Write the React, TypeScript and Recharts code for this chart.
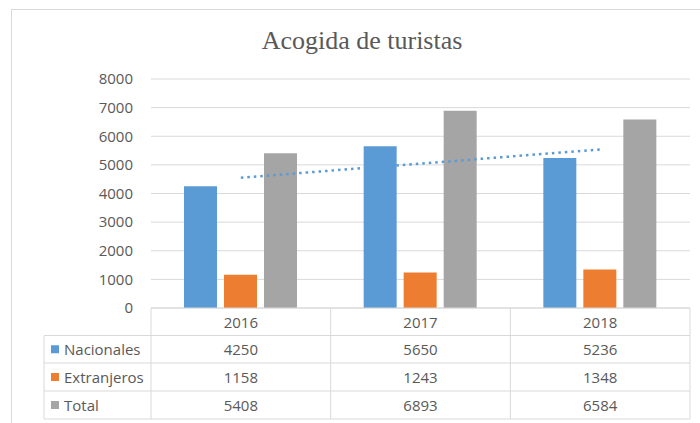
import React from 'react';
import { ComposedChart, Bar, Line, XAxis, YAxis, CartesianGrid } from 'recharts';

const years = ['2016', '2017', '2018'];
const nacionales = [4250, 5650, 5236];
const extranjeros = [1158, 1243, 1348];
const total = [5408, 6893, 6584];
// dotted linear trend line of "Nacionales"
const tendenciaNacionales = [4552, 5045, 5538];
const yTicks = [0, 1000, 2000, 3000, 4000, 5000, 6000, 7000, 8000];
const seriesNames = ['Nacionales', 'Extranjeros', 'Total'];
const seriesValues = [nacionales, extranjeros, total];
const seriesColors = ['#5B9BD5', '#ED7D31', '#A5A5A5'];
const title = 'Acogida de turistas';

const data = years.map((year, i) => ({
  year,
  nacionales: nacionales[i],
  extranjeros: extranjeros[i],
  total: total[i],
  tendencia: tendenciaNacionales[i],
}));

const W = 700;
const H = 423;
const MARGIN = { top: 79, right: 10, bottom: 0, left: 111 };
const Y_AXIS_W = 40;
const X_AXIS_H = 115;
const PLOT_W = W - MARGIN.left - MARGIN.right - Y_AXIS_W;
const TEXT = '#595959';
const GRID = '#d9d9d9';
const FONT = '"Open Sans", sans-serif';
const ROW_LINES = [0, 27.5, 55, 83, 111];
const LABEL_LEFT = 44;

function TableTick(props: any) {
  const { x, y, payload, index } = props;
  const band = PLOT_W / years.length;
  const left = x - band / 2;
  const right = x + band / 2;
  const els: any[] = [];
  // vertical borders
  els.push(<line key="vl" x1={left} x2={left} y1={y} y2={y + ROW_LINES[4]} stroke={GRID} />);
  if (index === years.length - 1) {
    els.push(<line key="vr" x1={right} x2={right} y1={y} y2={y + ROW_LINES[4]} stroke={GRID} />);
  }
  // horizontal borders
  ROW_LINES.slice(1).forEach((o, k) => {
    els.push(<line key={'h' + k} x1={left} x2={right} y1={y + o} y2={y + o} stroke={GRID} />);
  });
  // header (year)
  els.push(
    <text key="yr" x={x} y={y + ROW_LINES[0] + 14} textAnchor="middle" dominantBaseline="central"
      fontFamily={FONT} fontSize={15} fill={TEXT}>{payload.value}</text>
  );
  seriesValues.forEach((vals, r) => {
    const cy = y + (ROW_LINES[r + 1] + ROW_LINES[r + 2]) / 2;
    els.push(
      <text key={'v' + r} x={x} y={cy} textAnchor="middle" dominantBaseline="central"
        fontFamily={FONT} fontSize={15} fill={TEXT}>{vals[index]}</text>
    );
  });
  if (index === 0) {
    els.push(<line key="ll" x1={LABEL_LEFT} x2={LABEL_LEFT} y1={y + ROW_LINES[1]} y2={y + ROW_LINES[4]} stroke={GRID} />);
    ROW_LINES.slice(1).forEach((o, k) => {
      els.push(<line key={'lh' + k} x1={LABEL_LEFT} x2={left} y1={y + o} y2={y + o} stroke={GRID} />);
    });
    seriesNames.forEach((name, r) => {
      const cy = y + (ROW_LINES[r + 1] + ROW_LINES[r + 2]) / 2;
      els.push(<rect key={'sq' + r} x={LABEL_LEFT + 7} y={cy - 4} width={8} height={8} fill={seriesColors[r]} />);
      els.push(
        <text key={'n' + r} x={LABEL_LEFT + 20} y={cy} textAnchor="start" dominantBaseline="central"
          fontFamily={FONT} fontSize={15} fill={TEXT}>{name}</text>
      );
    });
  }
  return <g>{els}</g>;
}

export default function App() {
  return (
    <div style={{ position: 'absolute', left: 0, top: 0, width: W, height: H, overflow: 'hidden', background: '#fff' }}>
      <div style={{ position: 'absolute', left: 11, top: 9, width: 760, height: 500, border: '1px solid #d9d9d9', boxSizing: 'border-box' }} />
      <svg width={W} height={H} style={{ position: 'absolute', left: 0, top: 0 }}>
        <text x={362} y={49} textAnchor="middle" fontFamily='"Liberation Serif", serif' fontSize={26} fill={TEXT}>{title}</text>
      </svg>
      <div style={{ position: 'absolute', left: 0, top: 0 }}>
        <ComposedChart width={W} height={H} data={data} margin={MARGIN} barSize={33} barGap={7}>
          <CartesianGrid vertical={false} stroke={GRID} strokeWidth={1} />
          <XAxis dataKey="year" height={X_AXIS_H} interval={0} tickSize={0} tickMargin={0}
            axisLine={{ stroke: GRID }} tickLine={false} tick={(p: any) => <TableTick {...p} />} />
          <YAxis width={Y_AXIS_W} domain={[0, 8000]} ticks={yTicks} interval={0} axisLine={false} tickLine={false}
            tickSize={0} tickMargin={18} tick={{ fontSize: 15, fill: TEXT, fontFamily: FONT }} />
          <Bar dataKey="nacionales" name="Nacionales" fill={seriesColors[0]} isAnimationActive={false} />
          <Bar dataKey="extranjeros" name="Extranjeros" fill={seriesColors[1]} isAnimationActive={false} />
          <Bar dataKey="total" name="Total" fill={seriesColors[2]} isAnimationActive={false} />
          <Line dataKey="tendencia" stroke={seriesColors[0]} strokeWidth={2.5} strokeDasharray="2.5 4"
            dot={false} activeDot={false} isAnimationActive={false} />
        </ComposedChart>
      </div>
    </div>
  );
}
